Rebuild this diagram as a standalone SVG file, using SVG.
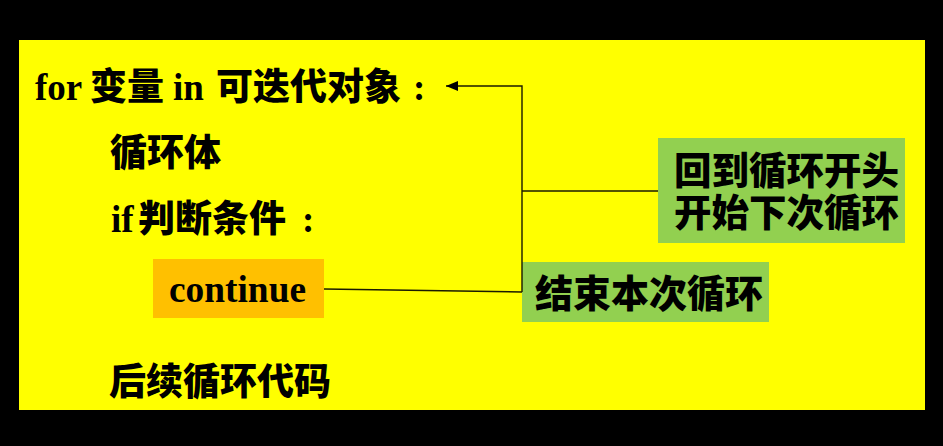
<svg xmlns="http://www.w3.org/2000/svg" width="943" height="446" viewBox="0 0 943 446">
  <style>
    .cjk { font-family: "Noto Sans CJK SC", "Noto Sans", sans-serif; font-weight: 900; fill: #000; }
    .ser { font-family: "Liberation Serif", "Times New Roman", serif; font-weight: bold; fill: #000; }
    .conn { stroke: #1a1a00; stroke-width: 1.4; fill: none; }
  </style>
  <defs>
    <marker id="arr" markerWidth="12" markerHeight="10" refX="12" refY="5" orient="auto" markerUnits="userSpaceOnUse">
      <path d="M0,0 L12,5 L0,10 Z" fill="#000"/>
    </marker>
  </defs>
  <rect x="0" y="0" width="943" height="446" fill="#000"/>
  <rect x="19" y="40" width="906" height="370" fill="#FFFF00"/>

  <g id="for-line">
    <text y="100" font-size="37"><tspan class="ser" x="35">for</tspan><tspan class="cjk" x="90">变量</tspan><tspan class="ser" x="173">in</tspan><tspan class="cjk" x="216">可迭代对象</tspan><tspan class="ser" x="413">:</tspan></text>
  </g>
  <g id="body">
    <text class="cjk" x="110" y="166" font-size="37">循环体</text>
  </g>
  <g id="if-line">
    <text y="232" font-size="37"><tspan class="ser" x="111">if</tspan><tspan class="cjk" x="138">判断条件</tspan><tspan class="ser" x="302">:</tspan></text>
  </g>
  <g id="continue">
    <rect x="153" y="259" width="171" height="59" fill="#FFC000"/>
    <text class="ser" x="169" y="302" font-size="37" textLength="137" lengthAdjust="spacingAndGlyphs">continue</text>
  </g>
  <g id="after">
    <text class="cjk" x="109" y="395" font-size="37">后续循环代码</text>
  </g>
  <g id="note-restart">
    <rect x="658" y="138" width="247" height="105" fill="#92D050"/>
    <text class="cjk" font-size="37.5"><tspan x="674" y="184">回到循环开头</tspan><tspan x="674" y="226">开始下次循环</tspan></text>
  </g>
  <g id="note-end">
    <rect x="522" y="262" width="247" height="60" fill="#92D050"/>
    <text class="cjk" x="535" y="307" font-size="38">结束本次循环</text>
  </g>

  <g id="connectors">
    <path class="conn" d="M522,292 L522,86 L446,86" marker-end="url(#arr)"/>
    <path class="conn" d="M522,191 L658,191"/>
    <path class="conn" d="M324,289 L522,292"/>
  </g>
</svg>
